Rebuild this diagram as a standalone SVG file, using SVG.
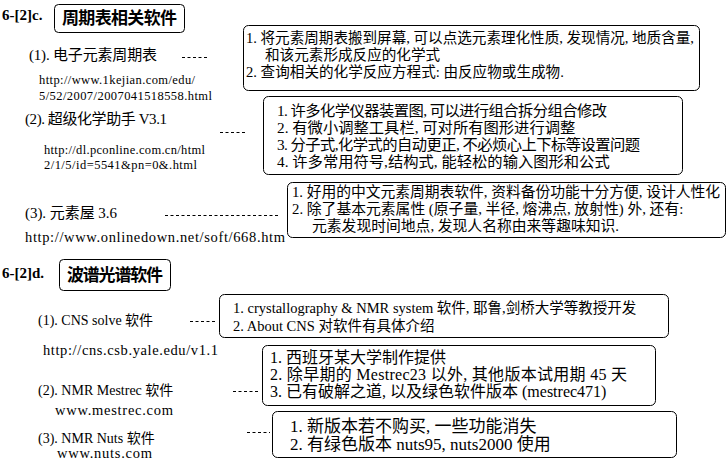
<svg xmlns="http://www.w3.org/2000/svg" width="727" height="462" viewBox="0 0 727 462">
<style>
text{font-family:"Liberation Serif","Noto Sans CJK SC",serif;fill:#000}
.l{font-size:15px}
.ld{font-size:14px}
.u{font-size:12.5px}
.u2{font-size:14.5px}
.h{font-size:15px;font-weight:bold}
.ht{font-size:17px;font-weight:bold;font-family:"Noto Sans CJK SC",sans-serif}
.t1{font-size:14.6px}
.t2{font-size:15.3px}
.t3{font-size:14.8px}
.d1{font-size:14.5px}
.d2{font-size:16px}
.d3{font-size:17px}
.b{fill:#fff;stroke:#000;stroke-width:1}
.c{stroke:#000;stroke-width:1;stroke-dasharray:3 2.5;fill:none}
</style>
<rect width="727" height="462" fill="#fff"/>
<g id="title-c">
<text class="h" x="2" y="20">6-[2]c.</text>
<rect class="b" x="54.5" y="4.5" width="130" height="28" rx="4"/>
<text class="ht" x="62" y="24" textLength="115">周期表相关软件</text>
</g>
<g id="c1">
<text class="l" x="29" y="60" textLength="128">(1). 电子元素周期表</text>
<text class="u" x="39" y="84" textLength="156">http://www.1kejian.com/edu/</text>
<text class="u" x="39" y="100" textLength="173">5/52/2007/2007041518558.html</text>
</g>
<g id="c1-box">
<rect class="b" x="243.5" y="25.5" width="456" height="65" rx="5"/>
<text class="t1" x="246" y="43" textLength="448">1. 将元素周期表搬到屏幕, 可以点选元素理化性质, 发现情况, 地质含量,</text>
<text class="t1" x="265" y="60">和该元素形成反应的化学式</text>
<text class="t1" x="246" y="77">2. 查询相关的化学反应方程式: 由反应物或生成物.</text>
</g>
<g id="c2">
<text class="l" x="25" y="124" textLength="142">(2). 超级化学助手 V3.1</text>
<text class="u" x="44" y="154" textLength="161">http://dl.pconline.com.cn/html</text>
<text class="u" x="44" y="169" textLength="153">2/1/5/id=5541&amp;pn=0&amp;.html</text>
</g>
<g id="c2-box">
<rect class="b" x="263.5" y="96.5" width="419" height="78" rx="5"/>
<text class="t2" x="277" y="116" textLength="330">1. 许多化学仪器装置图, 可以进行组合拆分组合修改</text>
<text class="t2" x="277" y="133">2. 有微小调整工具栏, 可对所有图形进行调整</text>
<text class="t2" x="277" y="150" textLength="363">3. 分子式,化学式的自动更正, 不必烦心上下标等设置问题</text>
<text class="t2" x="277" y="167">4. 许多常用符号,结构式, 能轻松的输入图形和公式</text>
</g>
<g id="c3">
<text class="l" x="25" y="218" textLength="92">(3). 元素屋 3.6</text>
<text class="u2" x="25" y="242" textLength="260">http://www.onlinedown.net/soft/668.htm</text>
</g>
<g id="c3-box">
<rect class="b" x="287.5" y="182.5" width="438" height="55" rx="5"/>
<text class="t3" x="292" y="197" textLength="428">1. 好用的中文元素周期表软件, 资料备份功能十分方便, 设计人性化</text>
<text class="t3" x="292" y="214">2. 除了基本元素属性 (原子量, 半径, 熔沸点, 放射性) 外, 还有:</text>
<text class="t3" x="312" y="231">元素发现时间地点, 发现人名称由来等趣味知识.</text>
</g>
<g id="title-d">
<text class="h" x="2" y="278">6-[2]d.</text>
<rect class="b" x="59.5" y="259.5" width="111" height="31" rx="4"/>
<text class="ht" x="67" y="281" textLength="96">波谱光谱软件</text>
</g>
<g id="d1">
<text class="ld" x="38" y="325">(1). CNS solve 软件</text>
<text class="u2" x="43" y="355" textLength="175">http://cns.csb.yale.edu/v1.1</text>
</g>
<g id="d1-box">
<rect class="b" x="219.5" y="294.5" width="449" height="43" rx="5"/>
<text class="d1" x="233" y="313">1. crystallography &amp; NMR system 软件, 耶鲁,剑桥大学等教授开发</text>
<text class="d1" x="233" y="331">2. About CNS 对软件有具体介绍</text>
</g>
<g id="d2">
<text class="ld" x="38" y="395">(2). NMR Mestrec 软件</text>
<text class="u2" x="55" y="415" textLength="118">www.mestrec.com</text>
</g>
<g id="d2-box">
<rect class="b" x="262.5" y="345.5" width="393" height="60" rx="5"/>
<text class="d2" x="270" y="363">1. 西班牙某大学制作提供</text>
<text class="d2" x="270" y="380" textLength="357">2. 除早期的 Mestrec23 以外, 其他版本试用期 45 天</text>
<text class="d2" x="270" y="397">3. 已有破解之道, 以及绿色软件版本 (mestrec471)</text>
</g>
<g id="d3">
<text class="ld" x="38" y="443">(3). NMR Nuts 软件</text>
<text class="u2" x="57" y="458" textLength="95">www.nuts.com</text>
</g>
<g id="d3-box">
<rect class="b" x="272.5" y="411.5" width="404" height="46" rx="5"/>
<text class="d3" x="290" y="432">1. 新版本若不购买, 一些功能消失</text>
<text class="d3" x="290" y="450">2. 有绿色版本 nuts95, nuts2000 使用</text>
</g>
<g id="connectors">
<line class="c" x1="182" y1="57.5" x2="209" y2="57.5"/>
<line class="c" x1="220" y1="132.5" x2="247" y2="132.5"/>
<line class="c" x1="165" y1="215.5" x2="278" y2="215.5"/>
<line class="c" x1="190" y1="321.5" x2="216" y2="321.5"/>
<line class="c" x1="233" y1="391.5" x2="258" y2="391.5"/>
<line class="c" x1="247" y1="432.5" x2="270" y2="432.5"/>
</g>
</svg>
